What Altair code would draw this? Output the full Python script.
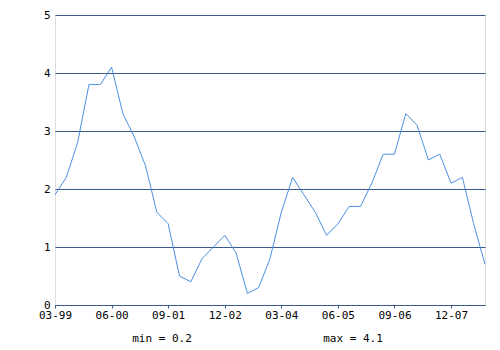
import altair as alt
import pandas as pd

values = [1.9, 2.2, 2.8, 3.8, 3.8, 4.1, 3.3, 2.9, 2.4, 1.6,
          1.4, 0.5, 0.4, 0.8, 1.0, 1.2, 0.9, 0.2, 0.3, 0.8,
          1.6, 2.2, 1.9, 1.6, 1.2, 1.4, 1.7, 1.7, 2.1, 2.6,
          2.6, 3.3, 3.1, 2.5, 2.6, 2.1, 2.2, 1.4, 0.7]
tick_positions = [0, 5, 10, 15, 20, 25, 30, 35]
tick_labels = ["03-99", "06-00", "09-01", "12-02", "03-04", "06-05", "09-06", "12-07"]

df = pd.DataFrame({"i": list(range(len(values))), "v": values})

label_map = "{" + ",".join(f"'{p}':'{l}'" for p, l in zip(tick_positions, tick_labels)) + "}"

FONT = "DejaVu Sans Mono"
GRID = "#3a5a8c"
LINE = "#4a90e2"

line = alt.Chart(df).mark_line(color=LINE, strokeWidth=1, interpolate="linear").encode(
    x=alt.X("i:Q", scale=alt.Scale(domain=[0, len(values) - 1], nice=False, zero=False),
            axis=alt.Axis(values=tick_positions, labelExpr=f"{label_map}[datum.value]",
                          title=None, grid=False, domain=True, domainColor=GRID,
                          tickColor=GRID, tickSize=3, labelFont=FONT, labelFontSize=11,
                          labelColor="black", labelPadding=1, labelFlush=False)),
    y=alt.Y("v:Q", scale=alt.Scale(domain=[0, 5], nice=False),
            axis=alt.Axis(values=[0, 1, 2, 3, 4, 5], title=None, grid=True, gridColor=GRID,
                          gridOpacity=1, domain=False, ticks=False, labelFont=FONT,
                          labelFontSize=11, labelColor="black", labelPadding=5,
                          labelBaseline="middle")),
)

stats = pd.DataFrame({
    "t": [f"min = {min(values)}", f"max = {max(values)}"],
    "px": [107, 298],
})
text = alt.Chart(stats).mark_text(font=FONT, fontSize=11, color="black", align="center",
                                  baseline="middle").encode(
    x=alt.X("px:Q", scale=None),
    y=alt.value(324),
    text="t:N",
)

chart = alt.layer(line, text).properties(
    width=430, height=290,
    autosize=alt.AutoSizeParams(type="none"),
    padding={"left": 55, "top": 15, "right": 15, "bottom": 45},
).configure_view(stroke=None).configure(background="white")

chart.save("out.html", embed_options={"renderer": "svg", "actions": False})
